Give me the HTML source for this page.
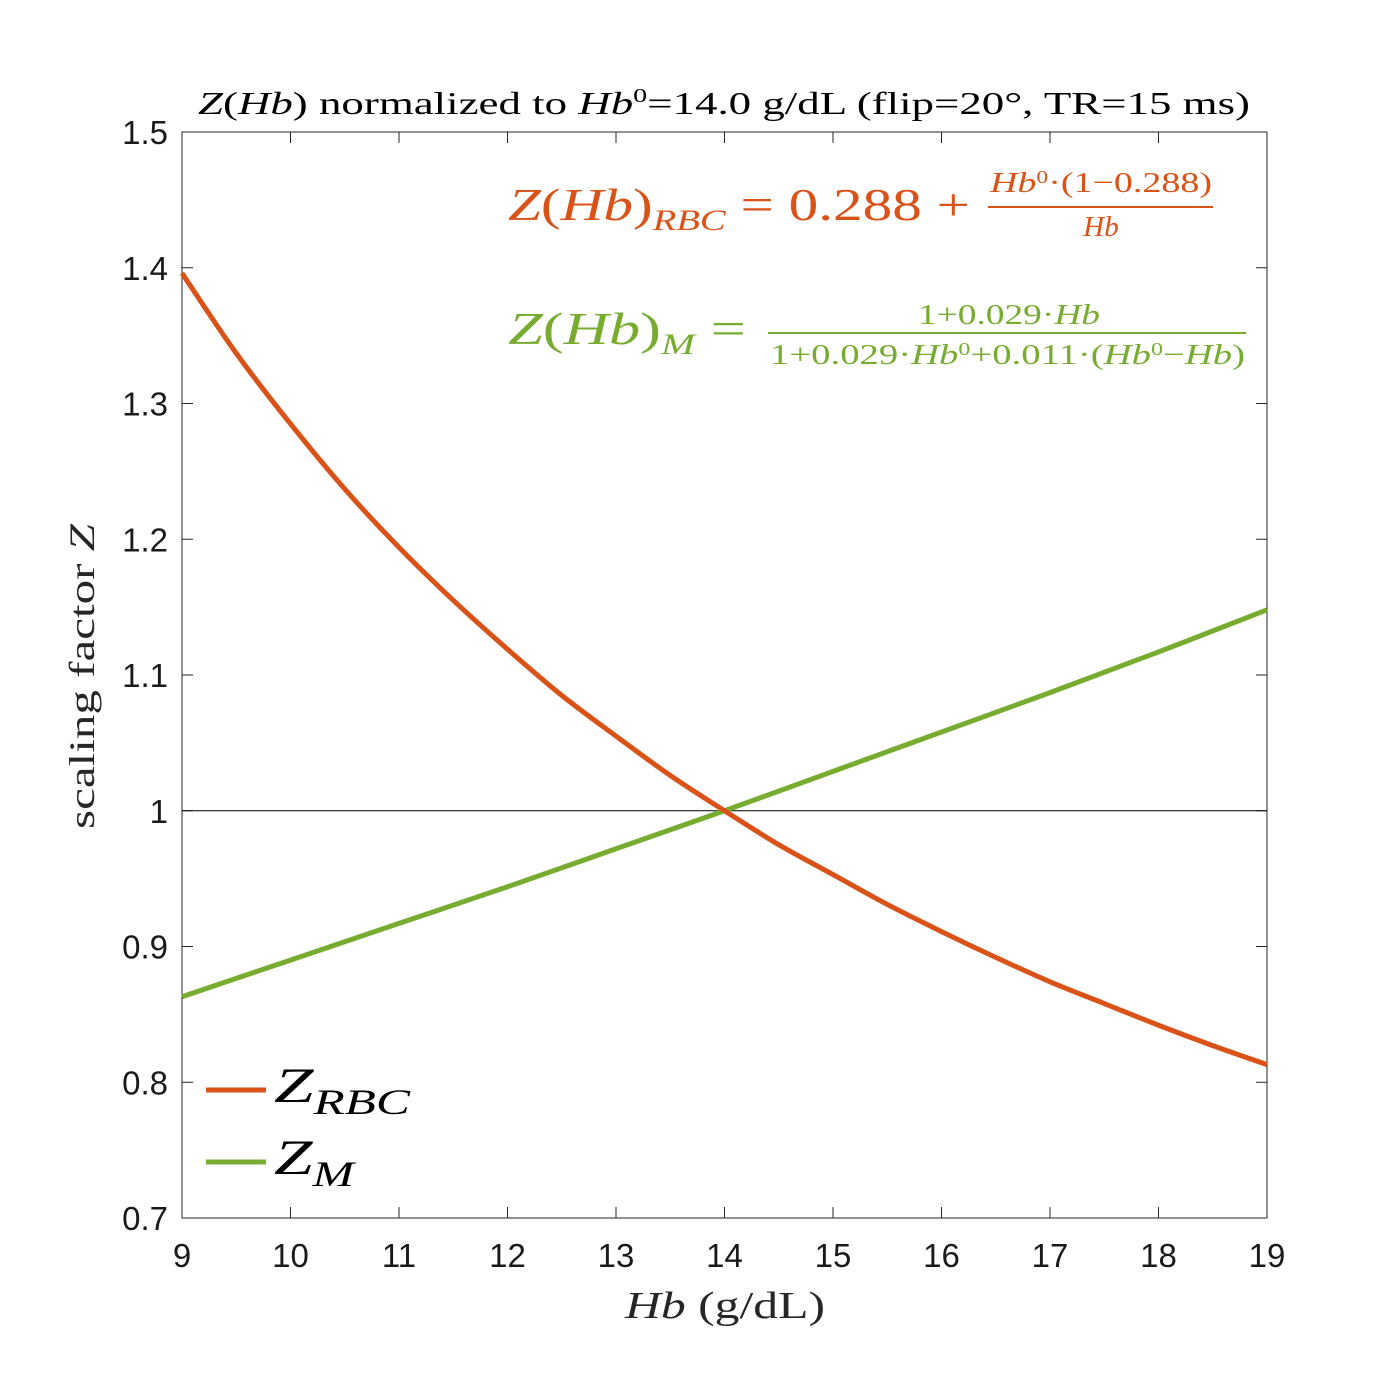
<!DOCTYPE html>
<html><head><meta charset="utf-8">
<style>
html,body{margin:0;padding:0;background:#fff;}
svg{display:block;}
.tick{font-family:"Liberation Sans",Arial,sans-serif;font-size:33px;fill:#1a1a1a;}
.serif{font-family:"Liberation Serif","DejaVu Serif",serif;}
</style></head>
<body>
<svg id="chart" width="1400" height="1400" viewBox="0 0 1400 1400" xmlns="http://www.w3.org/2000/svg">
<rect x="0" y="0" width="1400" height="1400" fill="#fff"/>
<rect x="182" y="132" width="1085" height="1086" fill="#fff" stroke="#262626" stroke-width="1"/>
<g id="ticks"></g>
<g id="series"></g>
<text class="serif" x="198" y="114" font-size="32" fill="#000" textLength="1052" lengthAdjust="spacingAndGlyphs"><tspan font-style="italic">Z</tspan>(<tspan font-style="italic">Hb</tspan>) normalized to <tspan font-style="italic">Hb</tspan><tspan font-size="20" dy="-12">0</tspan><tspan dy="12">=14.0 g/dL (flip=20°, TR=15 ms)</tspan></text>
<text class="serif" x="625" y="1318" font-size="38" fill="#262626" textLength="200" lengthAdjust="spacingAndGlyphs"><tspan font-style="italic">Hb</tspan> (g/dL)</text>
<text class="serif" transform="translate(94,829) rotate(-90)" font-size="36" fill="#262626" textLength="305" lengthAdjust="spacingAndGlyphs">scaling factor <tspan font-style="italic">Z</tspan></text>
<g fill="#d95319" class="serif">
<text x="508" y="220" font-size="46" textLength="462" lengthAdjust="spacingAndGlyphs"><tspan font-style="italic">Z</tspan>(<tspan font-style="italic">Hb</tspan>)<tspan font-style="italic" font-size="30" dy="10">RBC</tspan><tspan dy="-10"> = 0.288 +</tspan></text>
<text x="990" y="192" font-size="29" textLength="222" lengthAdjust="spacingAndGlyphs"><tspan font-style="italic">Hb</tspan><tspan font-size="18" dy="-9">0</tspan><tspan dy="9">·(1−0.288)</tspan></text>
<line x1="988" y1="207" x2="1213" y2="207" stroke="#d95319" stroke-width="2"/>
<text x="1101" y="236" font-size="29" text-anchor="middle" font-style="italic">Hb</text>
</g>
<g fill="#77ac30" class="serif">
<text x="508" y="344" font-size="46" textLength="238" lengthAdjust="spacingAndGlyphs"><tspan font-style="italic">Z</tspan>(<tspan font-style="italic">Hb</tspan>)<tspan font-style="italic" font-size="30" dy="10">M</tspan><tspan dy="-10"> =</tspan></text>
<text x="918" y="324" font-size="29" textLength="182" lengthAdjust="spacingAndGlyphs">1+0.029·<tspan font-style="italic">Hb</tspan></text>
<line x1="768" y1="333" x2="1246" y2="333" stroke="#77ac30" stroke-width="2"/>
<text x="770" y="364" font-size="29" textLength="475" lengthAdjust="spacingAndGlyphs">1+0.029·<tspan font-style="italic">Hb</tspan><tspan font-size="18" dy="-9">0</tspan><tspan dy="9">+0.011·(</tspan><tspan font-style="italic">Hb</tspan><tspan font-size="18" dy="-9">0</tspan><tspan dy="9">−</tspan><tspan font-style="italic">Hb</tspan>)</text>
</g>
<g>
<line x1="206" y1="1090" x2="266" y2="1090" stroke="#d95319" stroke-width="5"/>
<text class="serif" x="274" y="1102" font-size="50" font-style="italic" fill="#000" textLength="136" lengthAdjust="spacingAndGlyphs">Z<tspan font-size="36" dy="12">RBC</tspan></text>
<line x1="206" y1="1162" x2="266" y2="1162" stroke="#77ac30" stroke-width="5"/>
<text class="serif" x="274" y="1174" font-size="50" font-style="italic" fill="#000" textLength="80" lengthAdjust="spacingAndGlyphs">Z<tspan font-size="36" dy="12">M</tspan></text>
</g>
</svg>
<script>
const xTicks=[9,10,11,12,13,14,15,16,17,18,19];
const yTicks=[0.7,0.8,0.9,1.0,1.1,1.2,1.3,1.4,1.5];
const yTickLabels=["0.7","0.8","0.9","1","1.1","1.2","1.3","1.4","1.5"];
const rbcHb=[9,9.5,10,10.5,11,11.5,12,12.5,13,13.5,14,14.5,15,15.5,16,16.5,17,17.5,18,18.5,19];
const rbcZ=[1.396,1.337,1.285,1.237,1.194,1.155,1.119,1.085,1.055,1.026,1.0,0.975,0.953,0.931,0.911,0.892,0.874,0.858,0.842,0.827,0.813];
const mHb=[9,10,11,12,13,14,15,16,17,18,19];
const mZ=[0.863,0.890,0.917,0.944,0.972,1.0,1.029,1.058,1.087,1.117,1.148];
const refLine=1.0;

const NS="http://www.w3.org/2000/svg";
const X0=182,X1=1267,Y0=1218,Y1=132;
function xs(v){return X0+(v-9)/(19-9)*(X1-X0);}
function ys(v){return Y0-(v-0.7)/(1.5-0.7)*(Y0-Y1);}
const tg=document.getElementById('ticks');
const sg=document.getElementById('series');
function mk(tag,attrs,parent){const e=document.createElementNS(NS,tag);for(const k in attrs)e.setAttribute(k,attrs[k]);parent.appendChild(e);return e;}
xTicks.forEach(v=>{
  const x=xs(v);
  const t1=mk('line',{x1:x,y1:Y0,x2:x,y2:Y0-11,stroke:'#262626','stroke-width':1},tg);
  
  
  const t2=mk('line',{x1:x,y1:Y1,x2:x,y2:Y1+11,stroke:'#262626','stroke-width':1},tg);
  
  
  const l=mk('text',{x:x,y:Y0+49,'text-anchor':'middle',class:'tick'},tg);
  l.textContent=String(v);
  
  
});
yTicks.forEach((v,i)=>{
  const y=ys(v);
  const t1=mk('line',{x1:X0,y1:y,x2:X0+11,y2:y,stroke:'#262626','stroke-width':1},tg);
  
  
  const t2=mk('line',{x1:X1,y1:y,x2:X1-11,y2:y,stroke:'#262626','stroke-width':1},tg);
  
  
  const l=mk('text',{x:X0-14,y:y+12,'text-anchor':'end',class:'tick'},tg);
  l.textContent=yTickLabels[i];
  
  
});
const rl=mk('line',{x1:X0,y1:ys(refLine),x2:X1,y2:ys(refLine),stroke:'#000','stroke-width':1},sg);


function smooth(px,py){
  const p=px.map((v,i)=>[xs(v),ys(py[i])]);
  let d='M'+p[0][0]+','+p[0][1];
  for(let i=0;i<p.length-1;i++){
    const a=p[Math.max(0,i-1)],b=p[i],c=p[i+1],e=p[Math.min(p.length-1,i+2)];
    const c1=[b[0]+(c[0]-a[0])/6,b[1]+(c[1]-a[1])/6];
    const c2=[c[0]-(e[0]-b[0])/6,c[1]-(e[1]-b[1])/6];
    d+=' C'+c1[0]+','+c1[1]+' '+c2[0]+','+c2[1]+' '+c[0]+','+c[1];
  }
  return d;
}
const mPath=mk('path',{d:smooth(mHb,mZ),fill:'none',stroke:'#77ac30','stroke-width':5},sg);


const rPath=mk('path',{d:smooth(rbcHb,rbcZ),fill:'none',stroke:'#d95319','stroke-width':5},sg);


</script>
</body></html>
